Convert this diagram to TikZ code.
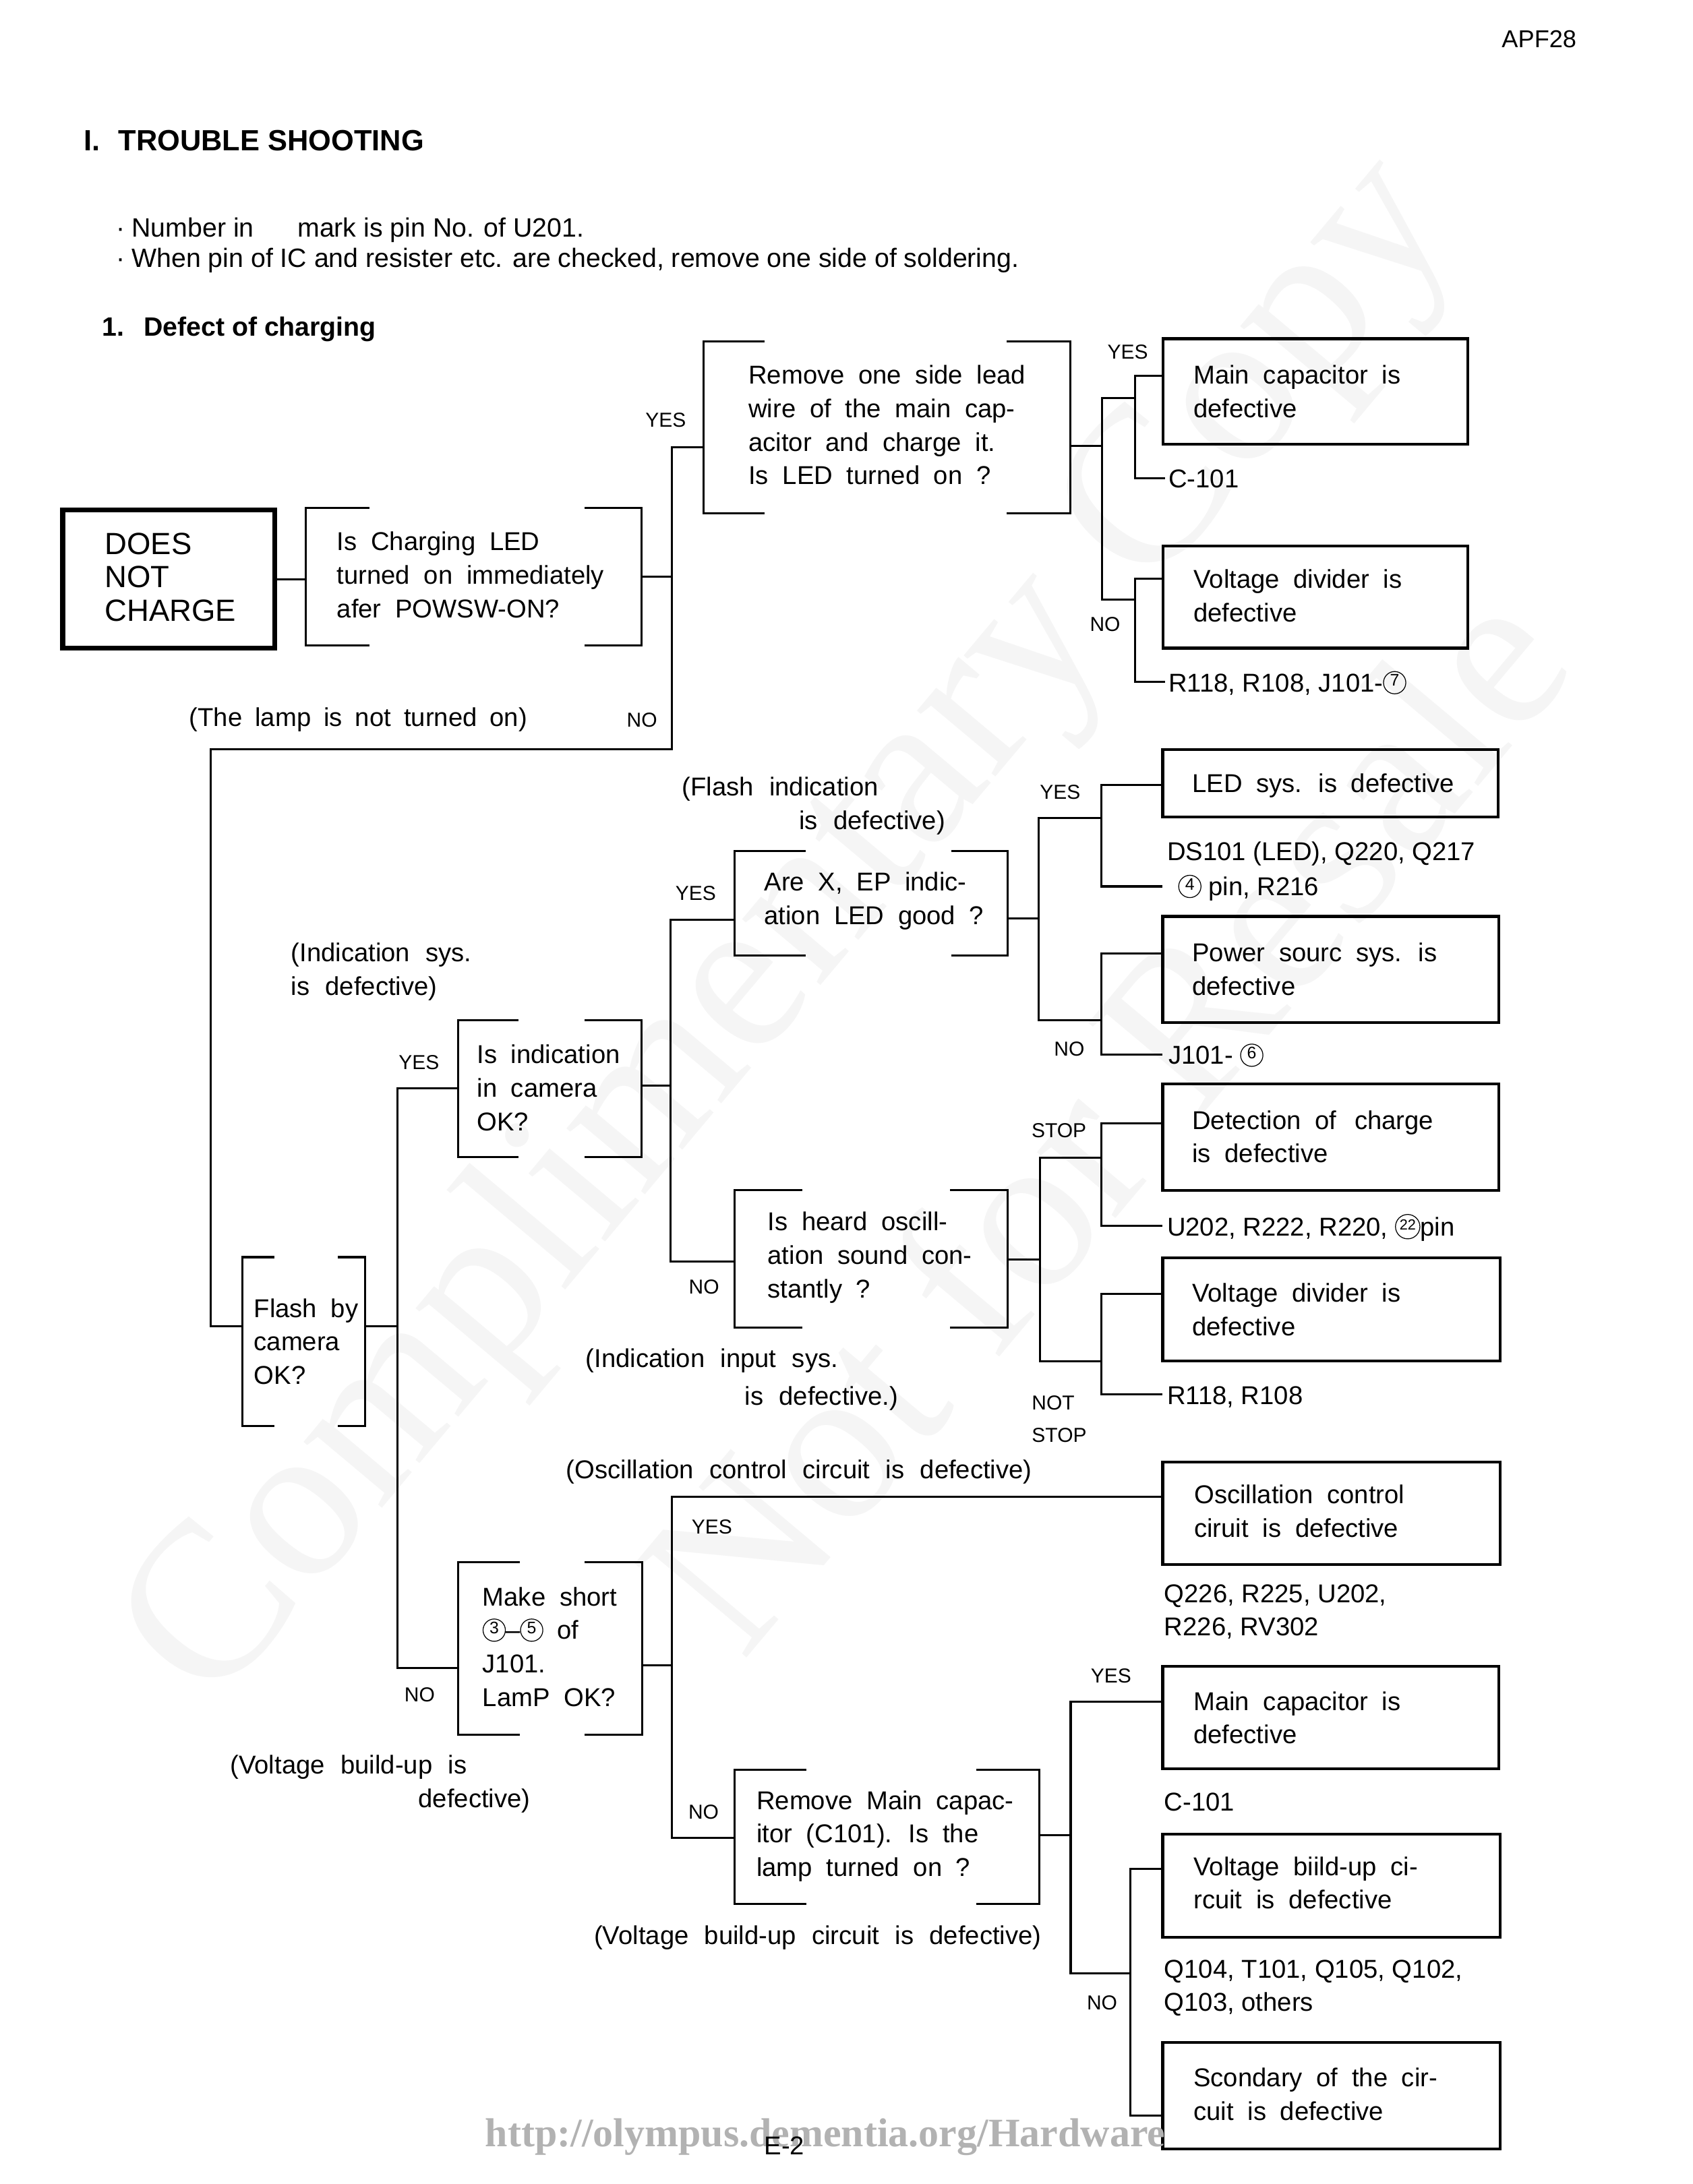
\documentclass[tikz,border=0pt]{standalone}
\usepackage{fontspec}
\setmainfont{Liberation Sans}
\newfontfamily\plainfont{Liberation Sans}
\newfontfamily\wmfont{Liberation Serif}
\newcommand{\listsize}{\plainfont\fontsize{18.5}{24}\selectfont}
\newcommand{\bodysize}{\plainfont\fontsize{18.5}{24}\selectfont\spaceskip=10pt plus 1pt minus 1pt\relax}
\newcommand{\capsize}{\plainfont\fontsize{18.5}{24}\selectfont\spaceskip=11.3pt plus 1pt minus 1pt\relax}
\newcommand{\lampsize}{\plainfont\fontsize{18.5}{24}\selectfont\spaceskip=9.2pt plus 1pt minus 1pt\relax}
\newcommand{\circnum}[3][12]{\tikz[baseline={([yshift=-6.5pt]cn.center)}]\node[circle,draw,line width=0.6pt,inner sep=0pt,minimum size=#3,font={\fontsize{#1}{#1}\selectfont}](cn){#2};}
\newcommand{\cnum}[1]{\circnum{#1}{16pt}}
\newcommand{\bracketbox}[3]{%
  \draw[ln] ([xshift=#2]#1.north west) -- (#1.north west) -- (#1.south west) -- ([xshift=#2]#1.south west);
  \draw[ln] ([xshift=-#3]#1.north east) -- (#1.north east) -- (#1.south east) -- ([xshift=-#3]#1.south east);}
\tikzset{
  ln/.style={line width=1.5pt, line cap=rect},
  bkbox/.style={rectangle, inner sep=0pt, outer sep=0pt, anchor=north west},
  rbox/.style={bkbox, draw, line width=2pt},
  txt/.style={anchor=north west, inner sep=0pt, align=left, font=\listsize, execute at begin node=\strut},
  btxt/.style={txt, yshift=-2.5pt, font=\bodysize},
  ctxt/.style={txt, font=\capsize},
  lbl/.style={inner sep=0pt, font=\plainfont\fontsize{14.5}{18}\selectfont},
  wm/.style={rotate=50, inner sep=0pt, text=black!4, font=\wmfont\fontsize{160}{160}\selectfont},
}
\begin{document}
\begin{tikzpicture}[x=1pt,y=-1pt]
\useasboundingbox (0,0) rectangle (1214,1567);
\fill[white] (0,0) rectangle (1214,1567);
% faint diagonal watermark
\node[wm] (wm1) at (570,670) {Complimentary Copy};
\node[wm] (wm2) at (790,800) {Not for Resale};

% header
\node[anchor=base east, inner sep=0pt, font=\plainfont\fontsize{17.5}{20}\selectfont] (apf) at (1131,34.3) {APF28};
\node[anchor=base west, inner sep=0pt, font=\plainfont\bfseries\fontsize{21}{24}\selectfont] (title) at (60,108) {I.\hspace{13pt}TROUBLE SHOOTING};
\node[anchor=base west, inner sep=0pt, font=\plainfont\fontsize{19}{22}\selectfont] (note1) at (83,169.8) {·\hspace{5pt}Number in \hspace{26pt}mark is pin No. of U201.};
\node[anchor=base west, inner sep=0pt, font=\plainfont\fontsize{19}{22}\selectfont] (note2) at (83,191.8) {·\hspace{5pt}When pin of IC and resister etc. are checked, remove one side of soldering.};
\node[anchor=base west, inner sep=0pt, font=\plainfont\bfseries\fontsize{19}{22}\selectfont] (sub) at (73,241) {1.\hspace{14pt}Defect of charging};

% start
\node[rbox, line width=3.5pt, minimum width=152pt, minimum height=99pt] (does) at (45,366) {};
\node[txt, font=\plainfont\fontsize{22}{24}\selectfont] (doest) at (75,382) {DOES\\NOT\\CHARGE};
\node[bkbox, minimum width=240.5pt, minimum height=98.5pt] (q1) at (219.5,364.5) {};
\bracketbox{q1}{45pt}{40pt}
\node[btxt] (q1t) at (241.5,379) {Is Charging LED\\turned on immediately\\afer POWSW-ON?};
\node[lbl] (y1) at (477.5,301.6) {YES};
\node[lbl] (n1) at (460.5,516.4) {NO};
\node[txt, font=\lampsize] (lamp) at (135.6,504) {(The lamp is not turned on)};

% top right
\node[bkbox, minimum width=263pt, minimum height=123.7pt] (q2) at (504.6,244.8) {};
\bracketbox{q2}{43pt}{45pt}
\node[btxt] (q2t) at (536.8,259.5) {Remove one side lead\\wire of the main cap-\\acitor and charge it.\\Is LED turned on ?};
\node[rbox, minimum width=218.5pt, minimum height=75.8pt] (mc1) at (834.3,243) {};
\node[btxt] (mc1t) at (856,259.5) {Main capacitor is\\defective};
\node[rbox, minimum width=218.5pt, minimum height=73.4pt] (vd1) at (834.3,391.6) {};
\node[btxt] (vd1t) at (856,406) {Voltage divider is\\defective};
\node[txt] (c101a) at (838,333) {C-101};
\node[txt] (r118a) at (838,479.3) {R118, R108, J101-\cnum{7}};
\node[lbl] (y2) at (809,252.5) {YES};
\node[lbl] (n2) at (792.7,448) {NO};

% middle left
\node[bkbox, minimum width=88pt, minimum height=121pt] (flash) at (174,902) {};
\bracketbox{flash}{22pt}{19pt}
\node[btxt] (flasht) at (182,929) {Flash by\\camera\\OK?};
\node[bkbox, minimum width=131.4pt, minimum height=98pt] (ind) at (328.6,732) {};
\bracketbox{ind}{42.4pt}{40pt}
\node[btxt] (indt) at (342,747) {Is indication\\in camera\\OK?};
\node[ctxt, yshift=-2.5pt] (indsys) at (208.6,674) {(Indication sys.\\is defective)};
\node[lbl] (y3) at (300.5,762.5) {YES};
\node[bkbox, minimum width=196pt, minimum height=75pt] (arex) at (527,610.6) {};
\bracketbox{arex}{50pt}{40pt}
\node[btxt] (arext) at (548,623) {Are X, EP indic-\\ation LED good ?};
\node[ctxt, yshift=-2.5pt] (flashind) at (489,555) {(Flash indication\\\hspace*{84pt}is defective)};
\node[lbl] (y4) at (499,641) {YES};
\node[bkbox, minimum width=196pt, minimum height=98.6pt] (heard) at (527,854) {};
\bracketbox{heard}{48pt}{41pt}
\node[btxt] (heardt) at (550.5,867) {Is heard oscill-\\ation sound con-\\stantly ?};
\node[lbl] (n4) at (505,923.5) {NO};
\node[ctxt] (inpsys1) at (420,964) {(Indication input sys.};
\node[ctxt] (inpsys2) at (534,991) {is defective.)};

% middle right
\node[rbox, minimum width=240.5pt, minimum height=48pt] (led) at (834,538) {};
\node[btxt] (ledt) at (855,549) {LED sys. is defective};
\node[txt] (ds101) at (837,600.6) {DS101 (LED), Q220, Q217};
\node[txt] (pin4) at (845,625.5) {\cnum{4} pin, R216};
\node[rbox, minimum width=241pt, minimum height=76pt] (pow) at (834,657.5) {};
\node[btxt] (powt) at (855,673.8) {Power sourc sys. is\\defective};
\node[txt] (j101) at (838,746.6) {J101- \cnum{6}};
\node[lbl] (y5) at (760.5,568.5) {YES};
\node[lbl] (n5) at (767,752.6) {NO};
\node[rbox, minimum width=241pt, minimum height=76.3pt] (det) at (834,777.7) {};
\node[btxt] (dett) at (855,794) {Detection of \hspace{3pt}charge\\is defective};
\node[txt] (u202) at (837,869.6) {U202, R222, R220, \circnum[10.5]{22}{17.5pt}pin};
\node[rbox, minimum width=242pt, minimum height=74pt] (vd2) at (834,902.6) {};
\node[btxt] (vd2t) at (855,918) {Voltage divider is\\defective};
\node[txt] (r118b) at (837,990.6) {R118, R108};
\node[lbl] (stop) at (759.6,811) {STOP};
\node[lbl, anchor=north west, align=left, font=\plainfont\fontsize{14.5}{23.6}\selectfont, execute at begin node=\strut] (notstop) at (740,1001) {NOT\\STOP};
\node[ctxt] (oscdef) at (406,1044) {(Oscillation control circuit is defective)};

% lower
\node[bkbox, minimum width=132pt, minimum height=123.5pt] (make) at (328.6,1121) {};
\bracketbox{make}{43.4pt}{40.5pt}
\node[btxt] (maket) at (346,1136) {Make short\\\cnum{3}–\cnum{5} of\\J101.\\LamP OK?};
\node[lbl] (n6) at (301,1216) {NO};
\node[ctxt] (vbu1) at (165,1255.6) {(Voltage build-up is};
\node[ctxt] (vbu2) at (300,1280) {defective)};
\node[lbl] (y6) at (510.7,1095.7) {YES};
\node[rbox, minimum width=242pt, minimum height=73.5pt] (osc) at (834,1049) {};
\node[btxt] (osct) at (856.5,1062.7) {Oscillation control\\ciruit is defective};
\node[txt] (q226) at (835,1136.6) {Q226, R225, U202,\\R226, RV302};
\node[bkbox, minimum width=218.6pt, minimum height=96pt] (rem) at (527,1270) {};
\bracketbox{rem}{50.7pt}{44.6pt}
\node[btxt] (remt) at (542.5,1282) {Remove Main capac-\\itor (C101). Is the\\lamp turned on ?};
\node[lbl] (n7) at (504.7,1300) {NO};
\node[ctxt] (vbuc) at (426,1378) {(Voltage build-up circuit is defective)};
\node[rbox, minimum width=241pt, minimum height=73.4pt] (mc2) at (834,1195.5) {};
\node[btxt] (mc2t) at (856,1211) {Main capacitor is\\defective};
\node[txt] (c101b) at (835,1282.3) {C-101};
\node[rbox, minimum width=242pt, minimum height=74pt] (vb) at (834,1316) {};
\node[btxt] (vbt) at (856,1329.5) {Voltage biild-up ci-\\rcuit is defective};
\node[txt] (q104) at (835,1406) {Q104, T101, Q105, Q102,\\Q103, others};
\node[rbox, minimum width=242pt, minimum height=76.5pt] (sc) at (834,1465.5) {};
\node[btxt] (sct) at (856,1481) {Scondary of the cir-\\cuit is defective};
\node[lbl] (y7) at (797,1202.6) {YES};
\node[lbl] (n8) at (790.5,1437) {NO};

% footer
\node[anchor=base west, inner sep=0pt, text=black!30, font=\wmfont\bfseries\fontsize{29}{32}\selectfont] (url) at (348,1540) {http://olympus.dementia.org/Hardware};
\node[txt] (e2) at (548,1529) {E-2};

% ---------- connectors ----------
\draw[ln] (does.east) -- (does.east -| q1.west);
\coordinate (c1) at (482,321);
\coordinate (c2) at (482,537.5);
\coordinate (c3) at (151,537.5);
\coordinate (c4) at (151,951.6);
\draw[ln] (q1.east) -- (q1.east -| c1);
\draw[ln] (c1 -| q2.west) -- (c1) -- (c2) -- (c3) -- (c4) -- (c4 -| flash.west);

\coordinate (d1) at (790.5,319.8);
\coordinate (d2) at (790.5,285.5);
\coordinate (d3) at (790.5,430);
\coordinate (e2) at (814,269.5);
\coordinate (e3) at (814,343);
\coordinate (e4) at (835,343);
\coordinate (f2) at (814,415);
\coordinate (f3) at (814,489);
\coordinate (f4) at (835,489);
\draw[ln] (d1 -| q2.east) -- (d1);
\draw[ln] (d2) -- (d3);
\draw[ln] (d2) -- (d2 -| e2);
\draw[ln] (e2 -| mc1.west) -- (e2) -- (e3) -- (e4);
\draw[ln] (d3) -- (d3 -| f2);
\draw[ln] (f2 -| vd1.west) -- (f2) -- (f3) -- (f4);

\coordinate (g1) at (285,951.6);
\coordinate (g2) at (285,781);
\coordinate (g3) at (285,1196.6);
\draw[ln] (g1 -| flash.east) -- (g1);
\draw[ln] (g2 -| ind.west) -- (g2) -- (g3) -- (g3 -| make.west);
\coordinate (h1) at (481,779);
\coordinate (h2) at (481,660);
\coordinate (h3) at (481,905);
\draw[ln] (h1 -| ind.east) -- (h1);
\draw[ln] (h2 -| arex.west) -- (h2) -- (h3) -- (h3 -| heard.west);

\coordinate (k1) at (745,659);
\coordinate (k2) at (745,587);
\coordinate (k3) at (745,732);
\draw[ln] (k1 -| arex.east) -- (k1);
\draw[ln] (k2) -- (k3);
\coordinate (m2) at (790,563);
\coordinate (m3) at (790,636);
\coordinate (m4) at (833,636);
\draw[ln] (k2) -- (k2 -| m2);
\draw[ln] (m2 -| led.west) -- (m2) -- (m3) -- (m4);
\coordinate (o2) at (790,684);
\coordinate (o3) at (790,756.6);
\coordinate (o4) at (833,756.6);
\draw[ln] (k3) -- (k3 -| o2);
\draw[ln] (o2 -| pow.west) -- (o2) -- (o3) -- (o4);

\coordinate (p1) at (746,903.7);
\coordinate (p2) at (746,830.7);
\coordinate (p3) at (746,976.6);
\draw[ln] (p1 -| heard.east) -- (p1);
\draw[ln] (p2) -- (p3);
\coordinate (r2) at (790,806);
\coordinate (r3) at (790,879.6);
\coordinate (r4) at (833,879.6);
\draw[ln] (p2) -- (p2 -| r2);
\draw[ln] (r2 -| det.west) -- (r2) -- (r3) -- (r4);
\coordinate (s2) at (790,928.5);
\coordinate (s3) at (790,1000.6);
\coordinate (s4) at (833,1000.6);
\draw[ln] (p3) -- (p3 -| s2);
\draw[ln] (s2 -| vd2.west) -- (s2) -- (s3) -- (s4);

\coordinate (u1) at (482,1195);
\coordinate (u2) at (482,1073.8);
\coordinate (u3) at (482,1318.6);
\draw[ln] (u1 -| make.east) -- (u1);
\draw[ln] (u2 -| osc.west) -- (u2) -- (u3) -- (u3 -| rem.west);
\coordinate (v1) at (768,1316.6);
\coordinate (v2) at (768,1221);
\coordinate (v3) at (768,1416);
\draw[ln] (v1 -| rem.east) -- (v1);
\draw[ln] (v2 -| mc2.west) -- (v2) -- (v3);
\coordinate (w2) at (811,1341);
\coordinate (w3) at (811,1518);
\draw[ln] (v3) -- (v3 -| w2);
\draw[ln] (w2 -| vb.west) -- (w2) -- (w3) -- (w3 -| sc.west);
\end{tikzpicture}
\end{document}
